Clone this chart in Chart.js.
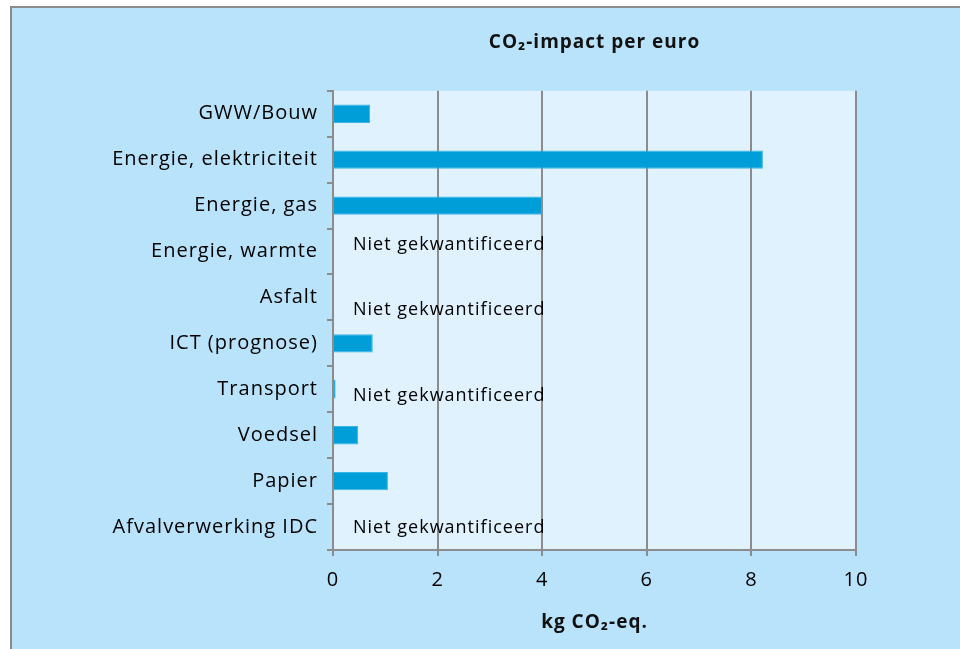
<!DOCTYPE html>
<html>
<head>
<meta charset="utf-8">
<script src="https://cdn.jsdelivr.net/npm/chart.js@4/dist/chart.umd.min.js"></script>
<style>
    body { margin: 0; background: #ffffff; }
    #frame {
        position: absolute; left: 10px; top: 6px;
        width: 950px; height: 643px;
        box-sizing: border-box;
        border-left: 2px solid #8c8c8c;
        border-top: 2px solid #8c8c8c;
        background: #b8e3fb;
    }
    #chart { display: block; }
</style>
</head>
<body>
<div id="frame"><canvas id="chart" width="948" height="641"></canvas></div>
<script>
const categories = [
    'GWW/Bouw',
    'Energie, elektriciteit',
    'Energie, gas',
    'Energie, warmte',
    'Asfalt',
    'ICT (prognose)',
    'Transport',
    'Voedsel',
    'Papier',
    'Afvalverwerking IDC'
];

const impact = [0.71, 8.22, 4.0, null, null, 0.76, 0.05, 0.48, 1.05, null];

const xTicks = [0, 2, 4, 6, 8, 10];

const notQuantified = ['Energie, warmte', 'Asfalt', 'Transport', 'Afvalverwerking IDC'];
const notQuantifiedText = 'Niet gekwantificeerd';

const FONT = "'Open Sans', 'DejaVu Sans', sans-serif";

// label shifts (px) for the "Niet gekwantificeerd" notes, as in the original
const noteShift = { 'Energie, warmte': -7, 'Asfalt': 12, 'Transport': 7, 'Afvalverwerking IDC': 1 };

// the original text is a bit spaced out
const spacing = {
    id: 'spacing',
    beforeUpdate(chart) { chart.ctx.letterSpacing = '1px'; },
    beforeDraw(chart) { chart.ctx.letterSpacing = '1px'; }
};

const plotBg = {
    id: 'plotBg',
    beforeDraw(chart) {
        const a = chart.chartArea;
        const ctx = chart.ctx;
        ctx.save();
        ctx.fillStyle = '#e0f2fe';
        ctx.fillRect(a.left, a.top, a.right - a.left, a.bottom - a.top);
        ctx.restore();
    }
};

const notes = {
    id: 'notes',
    afterDatasetsDraw(chart) {
        const ctx = chart.ctx;
        const x = chart.scales.x.getPixelForValue(0) + 20;
        ctx.save();
        ctx.font = '18px ' + FONT;
        ctx.fillStyle = '#000000';
        ctx.textBaseline = 'middle';
        notQuantified.forEach(function(cat) {
            const y = chart.scales.y.getPixelForValue(categories.indexOf(cat));
            ctx.fillText(notQuantifiedText, x, y + noteShift[cat]);
        });
        ctx.restore();
    }
};

const data = {
    labels: categories,
    datasets: [{
        data: impact,
        backgroundColor: '#009ed8',
        borderColor: '#3bb4e6',
        borderWidth: 1,
        barPercentage: 0.4,
        categoryPercentage: 1
    }]
};

const config = {
    type: 'bar',
    data: data,
    options: {
        indexAxis: 'y',
        responsive: false,
        animation: false,
        layout: { padding: { left: 0, right: 104, top: 0, bottom: 0 } },
        plugins: {
            legend: { display: false },
            tooltip: { enabled: false },
            title: {
                display: true,
                fullSize: false,
                text: 'CO\u2082-impact per euro',
                color: '#111111',
                font: { family: FONT, size: 19, weight: 'bold' },
                padding: { top: 23, bottom: 37 }
            }
        },
        scales: {
            x: {
                min: 0,
                max: 10,
                afterBuildTicks(scale) {
                    scale.ticks = xTicks.map(v => ({ value: v }));
                },
                afterFit(scale) { scale.height = 99; },
                grid: { color: '#8c8c8c', lineWidth: 2, tickLength: 6 },
                border: { color: '#8c8c8c', width: 2 },
                ticks: { color: '#000000', font: { family: FONT, size: 20 }, padding: 12 },
                title: {
                    display: true,
                    text: 'kg CO\u2082-eq.',
                    color: '#111111',
                    font: { family: FONT, size: 19, weight: 'bold' },
                    padding: { top: 8, bottom: 15 }
                }
            },
            y: {
                afterFit(scale) { scale.width = 321; },
                grid: { drawOnChartArea: false, color: '#8c8c8c', lineWidth: 2, tickLength: 6, offset: true },
                border: { color: '#8c8c8c', width: 2 },
                ticks: { color: '#000000', font: { family: FONT, size: 20 }, padding: 9 }
            }
        }
    },
    plugins: [spacing, plotBg, notes]
};

const impactChart = new Chart(document.getElementById('chart'), config);
</script>
</body>
</html>
